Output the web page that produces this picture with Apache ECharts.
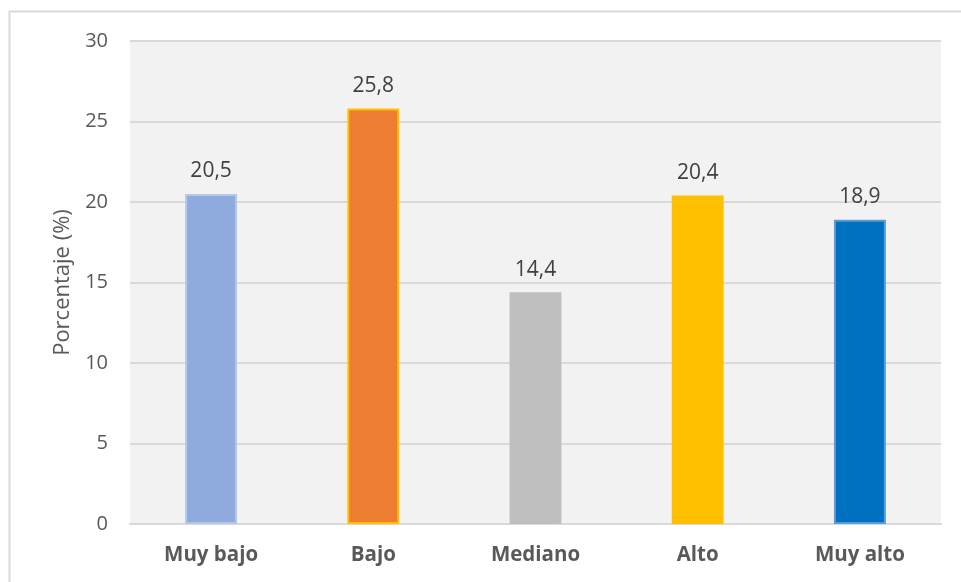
<!DOCTYPE html>
<html>
<head>
<meta charset="utf-8">
<script src="https://cdn.jsdelivr.net/npm/echarts@6/dist/echarts.min.js"></script>
<style>
  html, body { margin: 0; padding: 0; background: #fff; }
  #chart { width: 961px; height: 582px; }
</style>
</head>
<body>
<div id="chart"></div>
<script>
// niveles y porcentajes
const categorias = ['Muy bajo', 'Bajo', 'Mediano', 'Alto', 'Muy alto'];
const porcentajes = [20.5, 25.8, 14.4, 20.4, 18.9];
const colores = ['#8faadc', '#ed7d31', '#bfbfbf', '#ffc000', '#0070c0'];
const bordes = ['#b4c7e7', '#ffc000', '#bfbfbf', '#ffc000', '#5b9bd5'];

const myChart = echarts.init(document.getElementById('chart'));

const option = {
    backgroundColor: '#fff',
    animation: false,
    textStyle: { fontFamily: 'Open Sans' },
    graphic: [{
        type: 'rect',
        shape: { x: 9.5, y: 11.5, width: 980, height: 600 },
        style: { fill: 'none', stroke: '#d9d9d9', lineWidth: 2 },
        silent: true
    }],
    grid: {
        left: 130,
        right: 20,
        top: 41,
        bottom: 58,
        show: true,
        backgroundColor: '#f2f2f2',
        borderWidth: 0
    },
    xAxis: {
        type: 'category',
        data: categorias,
        axisLine: { lineStyle: { color: '#d9d9d9', width: 2 } },
        axisTick: { show: false },
        axisLabel: {
            color: '#595959',
            fontSize: 20.5,
            fontWeight: 'bold',
            margin: 21
        }
    },
    yAxis: {
        type: 'value',
        min: 0,
        max: 30,
        interval: 5,
        name: 'Porcentaje (%)',
        nameLocation: 'middle',
        nameGap: 55,
        nameTextStyle: { color: '#595959', fontSize: 22 },
        axisLine: { show: false },
        axisTick: { show: false },
        axisLabel: { color: '#595959', fontSize: 20, margin: 22 },
        splitLine: { lineStyle: { color: '#d9d9d9', width: 2 } }
    },
    series: [{
        type: 'bar',
        barWidth: '32%',
        data: porcentajes.map(function (v, i) {
            return {
                value: v,
                itemStyle: { color: colores[i], borderColor: bordes[i], borderWidth: 2 }
            };
        }),
        label: {
            show: true,
            position: 'top',
            distance: 12,
            color: '#404040',
            fontSize: 21,
            formatter: function (p) {
                return p.value.toFixed(1).replace('.', ',');
            }
        }
    }]
};

myChart.setOption(option);
</script>
</body>
</html>
